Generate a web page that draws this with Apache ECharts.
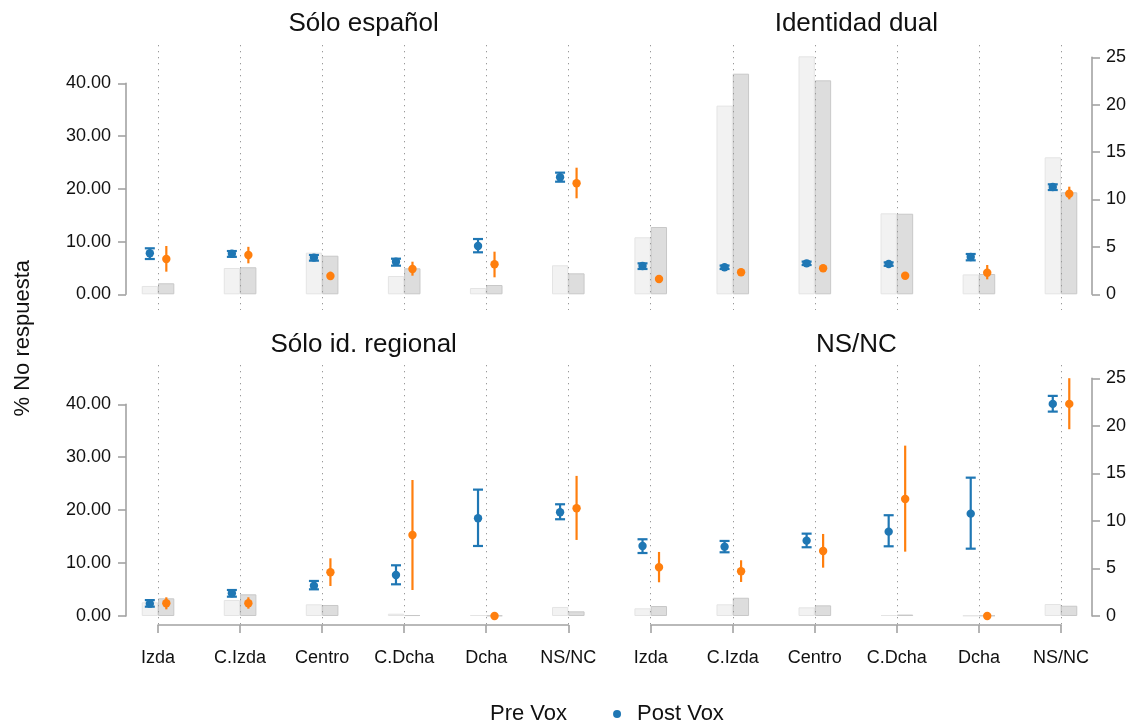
<!DOCTYPE html>
<html><head><meta charset="utf-8">
<script src="https://cdn.jsdelivr.net/npm/echarts@6/dist/echarts.min.js"></script>
<style>html,body{margin:0;padding:0;background:#fff}#c{width:1134px;height:724px}</style>
</head><body><div id="c"></div>
<script>
// ---------- data ----------
const categories = ['Izda', 'C.Izda', 'Centro', 'C.Dcha', 'Dcha', 'NS/NC'];
const panelTitles = ['Sólo español', 'Identidad dual', 'Sólo id. regional', 'NS/NC'];
const seriesNames = ['Pre Vox', 'Post Vox'];
const leftAxisTicks = [0, 10, 20, 30, 40];   // % No respuesta
const rightAxisTicks = [0, 5, 10, 15, 20, 25]; // bar scale

// [estimate, low, high] per category
const espPre  = [[7.77, 6.69, 8.72], [7.70, 7.10, 8.20], [6.95, 6.38, 7.45], [6.18, 5.43, 6.75], [9.16, 7.96, 10.48], [22.18, 21.35, 23.06]];
const espPost = [[6.69, 4.29, 9.16], [7.45, 5.87, 9.00], [3.47, 2.71, 4.29], [4.80, 3.53, 6.18], [5.69, 3.22, 8.08], [21.04, 18.20, 24.00]];
const espBarPre  = [0.88, 2.77, 4.39, 1.93, 0.66, 3.06];
const espBarPost = [1.16, 2.85, 4.07, 2.74, 0.98, 2.21];

const dualPre  = [[5.36, 4.80, 5.87], [5.12, 4.80, 5.45], [5.87, 5.55, 6.20], [5.74, 5.40, 6.05], [7.07, 6.44, 7.64], [20.34, 19.77, 20.85]];
const dualPost = [[2.90, 2.70, 3.10], [4.17, 3.95, 4.40], [4.93, 4.70, 5.15], [3.53, 3.30, 3.75], [4.10, 2.84, 5.55], [19.07, 18.00, 20.40]];
const dualBarPre  = [6.01, 19.90, 25.10, 8.54, 2.10, 14.45];
const dualBarPost = [7.10, 23.27, 22.57, 8.50, 2.14, 10.76];

const regPre  = [[2.33, 1.76, 3.00], [4.29, 3.65, 4.91], [5.73, 5.04, 6.62], [7.75, 5.99, 9.58], [18.47, 13.23, 23.88], [19.60, 18.28, 21.11]];
const regPost = [[2.40, 1.26, 3.53], [2.40, 1.38, 3.53], [8.26, 5.67, 10.90], [15.31, 4.91, 25.70], [0.00, 0.00, 0.00], [20.36, 14.37, 26.47]];
const regBarPre  = [1.44, 1.68, 1.23, 0.24, 0.10, 0.95];
const regBarPost = [1.86, 2.28, 1.16, 0.10, 0.05, 0.49];

const nsPre  = [[13.23, 11.90, 14.50], [13.10, 12.04, 14.18], [14.24, 12.99, 15.56], [15.94, 13.17, 19.04], [19.34, 12.72, 26.14], [40.08, 38.62, 41.59]];
const nsPost = [[9.20, 6.37, 12.10], [8.45, 6.43, 10.53], [12.29, 9.13, 15.50], [22.12, 12.16, 32.19], [0.00, 0.00, 0.00], [40.08, 35.29, 44.93]];
const nsBarPre  = [0.81, 1.23, 0.91, 0.10, 0.05, 1.26];
const nsBarPost = [1.05, 1.92, 1.12, 0.15, 0.05, 1.08];

// ---------- layout / style ----------
const panels = [
  { pre: espPre,  post: espPost,  barPre: espBarPre,  barPost: espBarPost },
  { pre: dualPre, post: dualPost, barPre: dualBarPre, barPost: dualBarPost },
  { pre: regPre,  post: regPost,  barPre: regBarPre,  barPost: regBarPost },
  { pre: nsPre,   post: nsPost,   barPre: nsBarPre,   barPost: nsBarPost }
];
const FONT = '"Liberation Sans", Arial, Helvetica, sans-serif';
const BLUE = '#1f77b4', ORANGE = '#ff7f0e';
const AXIS_COLOR = '#a3a3a3', TEXT = '#111';
const colLeft = [117, 609.7];
const colWidth = 492.3;
const rows = [
  { dotTop: 45, dotH: 265, barTop: 57.3, barH: 237, ptTop: 83.3, ptH: 211, titleTop: 6 },
  { dotTop: 365, dotH: 260, barTop: 378.3, barH: 237.7, ptTop: 404.3, ptH: 211.7, titleTop: 327 }
];

function errRender(dx, caps, color) {
  return function (params, api) {
    const c = api.value(0);
    const p = api.coord([c, api.value(1)]);
    const lo = api.coord([c, api.value(2)]);
    const hi = api.coord([c, api.value(3)]);
    const x = p[0] + dx;
    const ch = [];
    const st = { stroke: color, lineWidth: 2.2 };
    if (Math.abs(lo[1] - hi[1]) > 0.5) {
      ch.push({ type: 'line', shape: { x1: x, y1: lo[1], x2: x, y2: hi[1] }, style: st });
      if (caps) {
        ch.push({ type: 'line', shape: { x1: x - 5, y1: lo[1], x2: x + 5, y2: lo[1] }, style: st });
        ch.push({ type: 'line', shape: { x1: x - 5, y1: hi[1], x2: x + 5, y2: hi[1] }, style: st });
      }
    }
    ch.push({ type: 'circle', shape: { cx: x, cy: p[1], r: 4.2 }, style: { fill: color } });
    return { type: 'group', children: ch };
  };
}

const grid = [], xAxis = [], yAxis = [], series = [], title = [];
panels.forEach((pn, k) => {
  const col = k % 2, row = Math.floor(k / 2);
  const R = rows[row];
  const left = colLeft[col];
  const band = colWidth / categories.length;
  const gDot = grid.length;
  // dotted reference lines grid (category centres at edges)
  grid.push({ left: left + band / 2, width: colWidth - band, top: R.dotTop, height: R.dotH });
  xAxis.push({
    type: 'category', gridIndex: gDot, data: categories, boundaryGap: false, z: 5,
    offset: row === 1 ? 7 : 0,
    axisLine: { show: row === 1, lineStyle: { color: AXIS_COLOR, width: 1.6 } },
    axisTick: { show: row === 1, length: 8, lineStyle: { color: AXIS_COLOR, width: 1.6 } },
    axisLabel: { show: row === 1, fontSize: 18, color: TEXT, fontFamily: FONT, margin: 17 },
    splitLine: { show: true, lineStyle: { color: '#9a9a9a', type: [1.3, 4.7], width: 1 } }
  });
  yAxis.push({ type: 'value', gridIndex: gDot, show: false, min: 0, max: 1, splitLine: { show: false } });

  // bars grid (right scale 0-25)
  const gBar = grid.length;
  grid.push({ left: left, width: colWidth, top: R.barTop, height: R.barH });
  xAxis.push({ type: 'category', gridIndex: gBar, data: categories, show: false });
  yAxis.push({
    type: 'value', gridIndex: gBar, position: 'right', min: rightAxisTicks[0],
    max: rightAxisTicks[rightAxisTicks.length - 1], interval: 5, show: col === 1, offset: -10,
    axisLine: { show: true, lineStyle: { color: AXIS_COLOR, width: 1.6 } },
    axisTick: { show: true, length: 8, lineStyle: { color: AXIS_COLOR, width: 1.6 } },
    axisLabel: { fontSize: 18, color: TEXT, fontFamily: FONT, margin: 14 },
    splitLine: { show: false }
  });

  // points grid (left scale 0-40)
  const gPt = grid.length;
  grid.push({ left: left, width: colWidth, top: R.ptTop, height: R.ptH });
  xAxis.push({ type: 'category', gridIndex: gPt, data: categories, show: false });
  yAxis.push({
    type: 'value', gridIndex: gPt, position: 'left', min: leftAxisTicks[0],
    max: leftAxisTicks[leftAxisTicks.length - 1], interval: 10, show: col === 0, offset: -9,
    axisLine: { show: true, lineStyle: { color: AXIS_COLOR, width: 1.6 } },
    axisTick: { show: true, length: 8, lineStyle: { color: AXIS_COLOR, width: 1.6 } },
    axisLabel: { fontSize: 18, color: TEXT, fontFamily: FONT, margin: 15, formatter: v => v.toFixed(2) },
    splitLine: { show: false }
  });

  series.push({
    type: 'bar', name: 'barsPre', xAxisIndex: gBar, yAxisIndex: gBar, data: pn.barPre,
    barWidth: 16.3, barGap: '0%', clip: false, silent: true, z: 1,
    itemStyle: { color: '#f2f2f2', borderColor: '#e4e4e4', borderWidth: 1 }
  });
  series.push({
    type: 'bar', name: 'barsPost', xAxisIndex: gBar, yAxisIndex: gBar, data: pn.barPost,
    barWidth: 16.3, barGap: '0%', clip: false, silent: true, z: 1,
    itemStyle: { color: '#dddddd', borderColor: '#c8c8c8', borderWidth: 1 }
  });
  series.push({
    type: 'custom', name: seriesNames[0], xAxisIndex: gPt, yAxisIndex: gPt, z: 10,
    itemStyle: { color: BLUE },
    data: pn.pre.map((d, i) => [categories[i], d[0], d[1], d[2]]),
    encode: { x: 0, y: 1 },
    renderItem: errRender(-8.2, true, BLUE)
  });
  series.push({
    type: 'custom', name: seriesNames[1], xAxisIndex: gPt, yAxisIndex: gPt, z: 10,
    itemStyle: { color: ORANGE },
    data: pn.post.map((d, i) => [categories[i], d[0], d[1], d[2]]),
    encode: { x: 0, y: 1 },
    renderItem: errRender(8.3, false, ORANGE)
  });

  title.push({
    text: panelTitles[k], left: left + colWidth / 2 - 4.5, top: R.titleTop, textAlign: 'center',
    textStyle: { fontSize: 26, fontWeight: 'normal', color: TEXT, fontFamily: FONT }
  });
});

const option = {
  animation: false,
  backgroundColor: '#fff',
  textStyle: { fontFamily: FONT },
  title: title,
  grid: grid,
  xAxis: xAxis,
  yAxis: yAxis,
  series: series,
  legend: {
    left: 450, top: 698, itemWidth: 30, itemHeight: 8, itemGap: 46, selectedMode: false,
    textStyle: { fontSize: 22, color: TEXT, fontFamily: FONT },
    data: [
      { name: seriesNames[0], icon: 'none' },
      { name: seriesNames[1], icon: 'circle', itemStyle: { color: BLUE } }
    ]
  },
  graphic: [{
    type: 'text', left: 12, top: 260, rotation: Math.PI / 2,
    style: { text: '% No respuesta', fontSize: 22, fill: TEXT, font: '22px ' + FONT }
  }]
};
const chart = echarts.init(document.getElementById('c'), null, { renderer: 'canvas' });
chart.setOption(option);
</script>
</body></html>
